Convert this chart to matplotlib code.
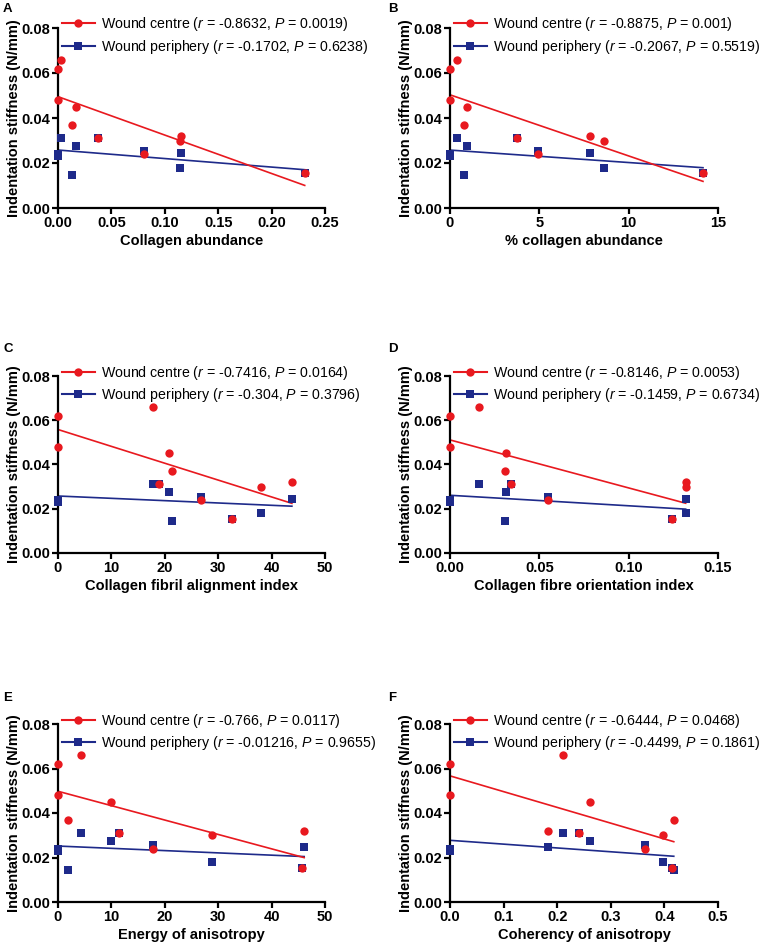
import numpy as np
import matplotlib
matplotlib.use("Agg")
import matplotlib.pyplot as plt
from matplotlib.lines import Line2D

plt.rcParams['font.family'] = ['Liberation Sans', 'DejaVu Sans']
plt.rcParams['mathtext.fontset'] = 'custom'
plt.rcParams['mathtext.it'] = 'Liberation Sans:italic'
plt.rcParams['mathtext.rm'] = 'Liberation Sans'

# Indentation stiffness (N/mm) per sample
centre_y = [0.062, 0.066, 0.048, 0.045, 0.037, 0.031, 0.032, 0.030, 0.024, 0.0155]
periph_y = [0.024, 0.031, 0.023, 0.0275, 0.0145, 0.031, 0.0245, 0.018, 0.0255, 0.0155]

# x values per panel (same sample order)
x_A = [0.0, 0.0025, 0.0, 0.0166, 0.0134, 0.0375, 0.1156, 0.114, 0.0806, 0.231]
x_B = [0.02, 0.37, 0.02, 0.93, 0.78, 3.73, 7.86, 8.63, 4.94, 14.16]
x_C = [0.0, 17.7, 0.0, 20.7, 21.4, 19.0, 43.8, 38.0, 26.8, 32.6]
x_D = [0.0, 0.0162, 0.0, 0.0315, 0.0306, 0.034, 0.1319, 0.1319, 0.0551, 0.1245]
x_E = [0.0, 4.25, 0.0, 9.9, 1.8, 11.4, 46.1, 28.9, 17.75, 45.6]
x_F = [0.0, 0.211, 0.0, 0.262, 0.4175, 0.24, 0.1825, 0.397, 0.364, 0.415]

panel_letters = ['A', 'B', 'C', 'D', 'E', 'F']
x_labels = ['Collagen abundance', '% collagen abundance', 'Collagen fibril alignment index',
            'Collagen fibre orientation index', 'Energy of anisotropy', 'Coherency of anisotropy']
x_ticks = [[0.00, 0.05, 0.10, 0.15, 0.20, 0.25], [0, 5, 10, 15], [0, 10, 20, 30, 40, 50],
           [0.00, 0.05, 0.10, 0.15], [0, 10, 20, 30, 40, 50], [0.0, 0.1, 0.2, 0.3, 0.4, 0.5]]
x_tick_labels = [['0.00', '0.05', '0.10', '0.15', '0.20', '0.25'], ['0', '5', '10', '15'],
                 ['0', '10', '20', '30', '40', '50'], ['0.00', '0.05', '0.10', '0.15'],
                 ['0', '10', '20', '30', '40', '50'], ['0.0', '0.1', '0.2', '0.3', '0.4', '0.5']]
centre_r = ['-0.8632', '-0.8875', '-0.7416', '-0.8146', '-0.766', '-0.6444']
centre_p = ['0.0019', '0.001', '0.0164', '0.0053', '0.0117', '0.0468']
periph_r = ['-0.1702', '-0.2067', '-0.304', '-0.1459', '-0.01216', '-0.4499']
periph_p = ['0.6238', '0.5519', '0.3796', '0.6734', '0.9655', '0.1861']
y_ticks = [0.00, 0.02, 0.04, 0.06, 0.08]
y_tick_labels = ['0.00', '0.02', '0.04', '0.06', '0.08']

x_data = [x_A, x_B, x_C, x_D, x_E, x_F]

RED = '#E8191F'
BLUE = '#1E2A8A'
W, H = 770, 948
fig = plt.figure(figsize=(W / 100, H / 100), dpi=100)

cols = [(58, 325), (450, 718)]
rows = [(28, 208), (376, 553), (724, 902)]
letter_pos = [(3, 9), (388, 9), (3, 349), (388, 349), (3, 698), (388, 698)]

for i in range(6):
    c = cols[i % 2]
    r = rows[i // 2]
    ax = fig.add_axes([c[0] / W, 1 - r[1] / H, (c[1] - c[0]) / W, (r[1] - r[0]) / H])
    xs = np.array(x_data[i])
    yc = np.array(centre_y)
    yp = np.array(periph_y)
    xx = np.array([xs.min(), xs.max()])
    mc, bc = np.polyfit(xs, yc, 1)
    mp, bp = np.polyfit(xs, yp, 1)
    ax.plot(xx, mp * xx + bp, color=BLUE, lw=1.2, zorder=2)
    ax.plot(xx, mc * xx + bc, color=RED, lw=1.2, zorder=2)
    ax.scatter(xs, yp, marker='s', s=30, color=BLUE, zorder=3, clip_on=False, linewidths=0)
    ax.scatter(xs, yc, marker='o', s=36, color=RED, zorder=4, clip_on=False, linewidths=0)
    ax.set_xlim(x_ticks[i][0], x_ticks[i][-1])
    ax.set_ylim(0, 0.08)
    ax.set_xticks(x_ticks[i])
    ax.set_xticklabels(x_tick_labels[i], fontweight='bold', fontsize=10.5)
    ax.set_yticks(y_ticks)
    ax.set_yticklabels(y_tick_labels, fontweight='bold', fontsize=10.5)
    for s in ['top', 'right']:
        ax.spines[s].set_visible(False)
    for s in ['left', 'bottom']:
        ax.spines[s].set_linewidth(1.6)
        ax.spines[s].set_color('black')
    ax.tick_params(direction='out', length=4, width=1.6, pad=1.5)
    ax.set_xlabel(x_labels[i], fontweight='bold', fontsize=10.5, labelpad=3)
    ax.set_ylabel('Indentation stiffness (N/mm)', fontweight='bold', fontsize=10.5, labelpad=0)
    handles = [Line2D([0], [0], color=RED, lw=1.5, marker='o', markersize=6, markeredgewidth=0),
               Line2D([0], [0], color=BLUE, lw=1.5, marker='s', markersize=5.5, markeredgewidth=0)]
    labels = ['Wound centre ($r$ = %s, $P$ = %s)' % (centre_r[i], centre_p[i]),
              'Wound periphery ($r$ = %s, $P$ = %s)' % (periph_r[i], periph_p[i])]
    ax.legend(handles, labels, loc='upper left', bbox_to_anchor=(0.015, 1.07), frameon=False,
              fontsize=10.2, handlelength=2.3, handletextpad=0.45, labelspacing=0.32,
              borderpad=0, borderaxespad=0)
    lx, ly = letter_pos[i]
    fig.text(lx / W, 1 - ly / H, panel_letters[i], fontweight='bold', fontsize=9.5,
             ha='left', va='center')

fig.savefig('out.png', dpi=100)
